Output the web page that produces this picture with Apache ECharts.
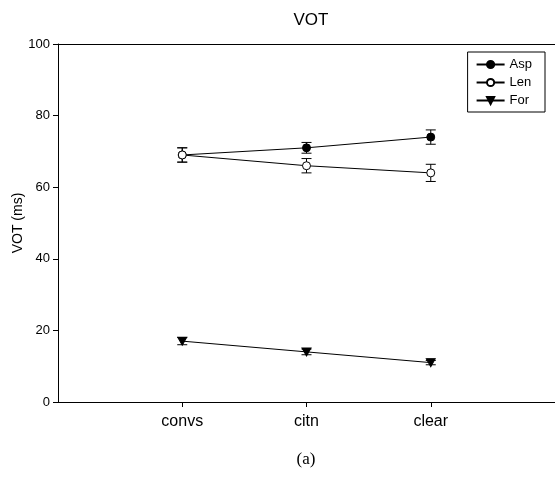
<!DOCTYPE html>
<html><head><meta charset="utf-8">
<script src="https://cdn.jsdelivr.net/npm/echarts@6/dist/echarts.min.js"></script>
<style>html,body{margin:0;padding:0;background:#fff}#c{width:555px;height:493px}</style>
</head><body><div id="c"></div>
<script>
const categories = ['convs', 'citn', 'clear'];
const xPositions = [1, 2, 3];
const aspValues = [69, 71, 74];
const aspErrors = [2, 1.5, 2];
const lenValues = [69, 66, 64];
const lenErrors = [2, 2, 2.4];
const forValues = [17, 14, 11];
const forErrors = [1, 0.8, 0.6];
const yTicks = [0, 20, 40, 60, 80, 100];

const chart = echarts.init(document.getElementById('c'));
const font = 'Liberation Sans, Arial, sans-serif';
const tri = 'path://M0,0 L10,0 L5,9 Z';

function pts(vals){ return vals.map((v,i)=>[xPositions[i], v]); }
function errData(vals, errs){ return vals.map((v,i)=>[xPositions[i], v-errs[i], v+errs[i]]); }
function errSeries(name, vals, errs){
  return {
    type:'custom', name: name+'err', silent:true, z:1,
    data: errData(vals, errs),
    renderItem(params, api){
      const x = api.value(0);
      const lo = api.coord([x, api.value(1)]);
      const hi = api.coord([x, api.value(2)]);
      const w = 5;
      const st = {stroke:'#000', lineWidth:1};
      return {type:'group', children:[
        {type:'line', shape:{x1:lo[0],y1:lo[1],x2:hi[0],y2:hi[1]}, style:st},
        {type:'line', shape:{x1:lo[0]-w,y1:lo[1],x2:lo[0]+w,y2:lo[1]}, style:st},
        {type:'line', shape:{x1:hi[0]-w,y1:hi[1],x2:hi[0]+w,y2:hi[1]}, style:st}
      ]};
    }
  };
}
function lineSeries(name, vals, symbol, fill, size){
  return {
    type:'line', name, data: pts(vals), symbol, symbolSize: size, showAllSymbol:true,
    lineStyle:{color:'#000', width:1}, itemStyle:{color:fill, borderColor:'#000', borderWidth:1},
    z:3, animation:false
  };
}

chart.setOption({
  animation:false,
  title:{text:'VOT', left:306, top:7, textAlign:'center', textStyle:{fontFamily:font, fontSize:17, fontWeight:'normal', color:'#000'}},
  grid:{left:58, right:0, top:44, bottom:91, outerBoundsMode:'none', containLabel:false, show:true, borderColor:'#000', borderWidth:0},
  legend:{
    orient:'vertical', right:10, top:52, padding:[6,13,5,8], itemGap:5,
    borderColor:'#000', borderWidth:1, itemWidth:28, itemHeight:9,
    textStyle:{fontFamily:font, fontSize:13, color:'#000'},
    data:['Asp','Len','For']
  },
  xAxis:{
    type:'value', min:0, max:4, interval:1,
    axisLine:{show:true, lineStyle:{color:'#000'}},
    axisTick:{show:true, inside:false, length:5, customValues:xPositions, lineStyle:{color:'#000'}},
    axisLabel:{customValues:xPositions, formatter:(v)=>categories[xPositions.indexOf(v)] || '', fontFamily:font, fontSize:16, color:'#000', margin:12},
    splitLine:{show:false}
  },
  yAxis:[{
    type:'value', min:0, max:100, interval:20,
    name:'VOT (ms)', nameLocation:'middle', nameGap:33, nameRotate:90, nameMoveOverlap:false,
    nameTextStyle:{fontFamily:font, fontSize:14, color:'#000'},
    axisLine:{show:true, lineStyle:{color:'#000'}},
    axisTick:{show:true, length:5, lineStyle:{color:'#000'}},
    axisLabel:{fontFamily:font, fontSize:13, color:'#000', margin:8, formatter:(v)=> yTicks.includes(v) ? String(v) : ''},
    splitLine:{show:false}
  }],
  graphic:[
    {type:'line', shape:{x1:58, y1:44.5, x2:555, y2:44.5}, style:{stroke:'#000', lineWidth:1}},
    {type:'text', x:306, y:451, style:{text:'(a)', align:'center', font:'17px "Liberation Serif", "Times New Roman", serif', fill:'#000'}}
  ],
  series:[
    errSeries('Asp', aspValues, aspErrors),
    errSeries('Len', lenValues, lenErrors),
    errSeries('For', forValues, forErrors),
    lineSeries('Asp', aspValues, 'circle', '#000', 8),
    lineSeries('Len', lenValues, 'circle', '#fff', 8),
    lineSeries('For', forValues, tri, '#000', [9,8])
  ]
});
</script></body></html>
